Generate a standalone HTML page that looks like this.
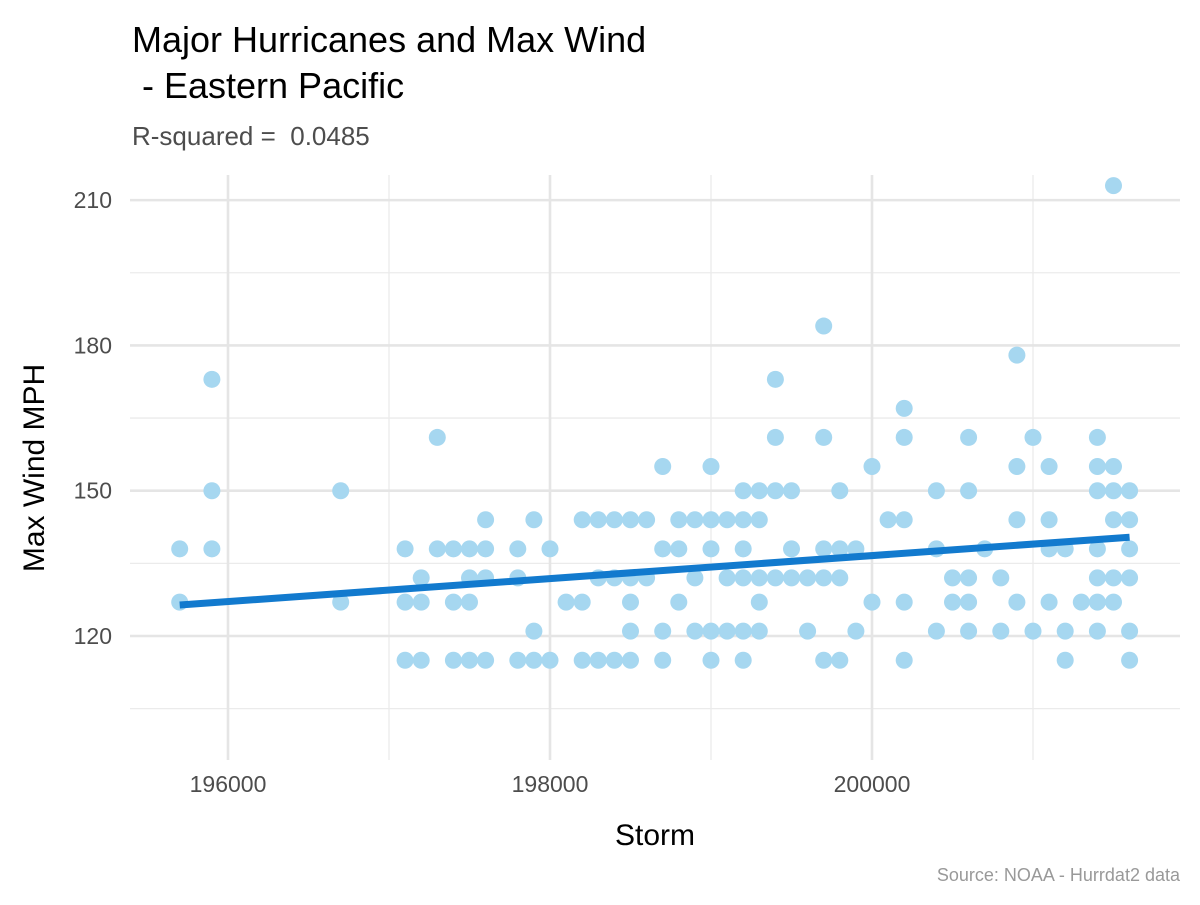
<!DOCTYPE html>
<html><head><meta charset="utf-8"><style>
body{margin:0;background:#fff;}
text{font-family:"Liberation Sans",Arial,sans-serif;white-space:pre;}
</style></head><body>
<svg id="chart" width="1200" height="900" xmlns="http://www.w3.org/2000/svg">
<rect width="1200" height="900" fill="#fff"/>
<g id="grid"></g>
<g id="pts"></g>
<g id="fit"></g>
<g id="axes"></g>
<text x="132" y="52" font-size="36" fill="#000">Major Hurricanes and Max Wind</text>
<text x="132" y="98" font-size="36" fill="#000" xml:space="preserve"> - Eastern Pacific</text>
<text x="132" y="145" font-size="26" fill="#4d4d4d" xml:space="preserve">R-squared =  0.0485</text>
<text x="655" y="845" font-size="30" text-anchor="middle" fill="#000">Storm</text>
<text transform="translate(44,468) rotate(-90)" font-size="30" text-anchor="middle" fill="#000">Max Wind MPH</text>
<text x="1180" y="881" font-size="18" text-anchor="end" fill="#999">Source: NOAA - Hurrdat2 data</text>
</svg>
<script>
const storms = [195700,195900,196700,197100,197200,197300,197400,197500,197600,197800,197900,198000,198100,198200,198300,198400,198500,198600,198700,198800,198900,199000,199100,199200,199300,199400,199500,199600,199700,199800,199900,200000,200100,200200,200400,200500,200600,200700,200800,200900,201000,201100,201200,201300,201400,201500,201600];
const winds = [[127,138],[173,150,138],[150,127],[138,127,115],[132,127,115],[161,138],[138,127,115],[138,132,127,115],[144,138,132,115],[138,132,115],[144,121,115],[138,115],[127],[144,127,115],[144,132,115],[144,132,115],[144,132,127,121,115],[144,132],[155,138,121,115],[144,138,127],[144,132,121],[155,144,138,121,115],[144,132,121],[150,144,138,132,121,115],[150,144,132,127,121],[173,161,150,132],[150,138,132],[132,121],[184,161,138,132,115],[150,138,132,115],[138,121],[155,127],[144],[167,161,144,127,115],[150,138,121],[132,127],[161,150,132,127,121],[138],[132,121],[178,155,144,127],[161,121],[155,144,138,127],[138,121,115],[127],[161,155,150,138,132,127,121],[213,155,150,144,132,127],[150,144,138,132,121,115]];
const fitX = [195700,201600];
const fitY = [126.4,140.4];
const xTicks = [196000,198000,200000];
const xMinor = [197000,199000,201000];
const yTicks = [120,150,180,210];
const yMinor = [105,135,165,195];
const NS="http://www.w3.org/2000/svg";
const X=v=>228+(v-196000)*0.161;
const Y=v=>636-(v-120)*4.843;
const L=130,R=1180,T=175,B=760;
function mk(tag,attrs,parent){const e=document.createElementNS(NS,tag);for(const k in attrs)e.setAttribute(k,attrs[k]);parent.appendChild(e);return e;}
const grid=document.getElementById('grid'),axes=document.getElementById('axes');
yMinor.forEach(v=>{const e=mk('line',{x1:L,x2:R,y1:Y(v),y2:Y(v),stroke:'#ebebeb','stroke-width':1.3},grid);

});
xMinor.forEach(v=>{const e=mk('line',{x1:X(v),x2:X(v),y1:T,y2:B,stroke:'#ebebeb','stroke-width':1.3},grid);

});
yTicks.forEach(v=>{const e=mk('line',{x1:L,x2:R,y1:Y(v),y2:Y(v),stroke:'#e5e5e5','stroke-width':2.6},grid);


const t=mk('text',{x:112,y:Y(v)+8,'font-size':23,'text-anchor':'end',fill:'#4d4d4d'},axes);t.textContent=v;

});
xTicks.forEach(v=>{const e=mk('line',{x1:X(v),x2:X(v),y1:T,y2:B,stroke:'#e5e5e5','stroke-width':2.6},grid);


const t=mk('text',{x:X(v),y:792,'font-size':23,'text-anchor':'middle',fill:'#4d4d4d'},axes);t.textContent=v;

});
const pts=document.getElementById('pts');
storms.forEach((s,i)=>winds[i].forEach(w=>{const c=mk('circle',{cx:X(s),cy:Y(w),r:8.5,fill:'#a6d7f0'},pts);

}));
const ln=mk('line',{x1:X(fitX[0]),y1:Y(fitY[0]),x2:X(fitX[1]),y2:Y(fitY[1]),stroke:'#127ace','stroke-width':7},document.getElementById('fit'));


</script>
</body></html>
